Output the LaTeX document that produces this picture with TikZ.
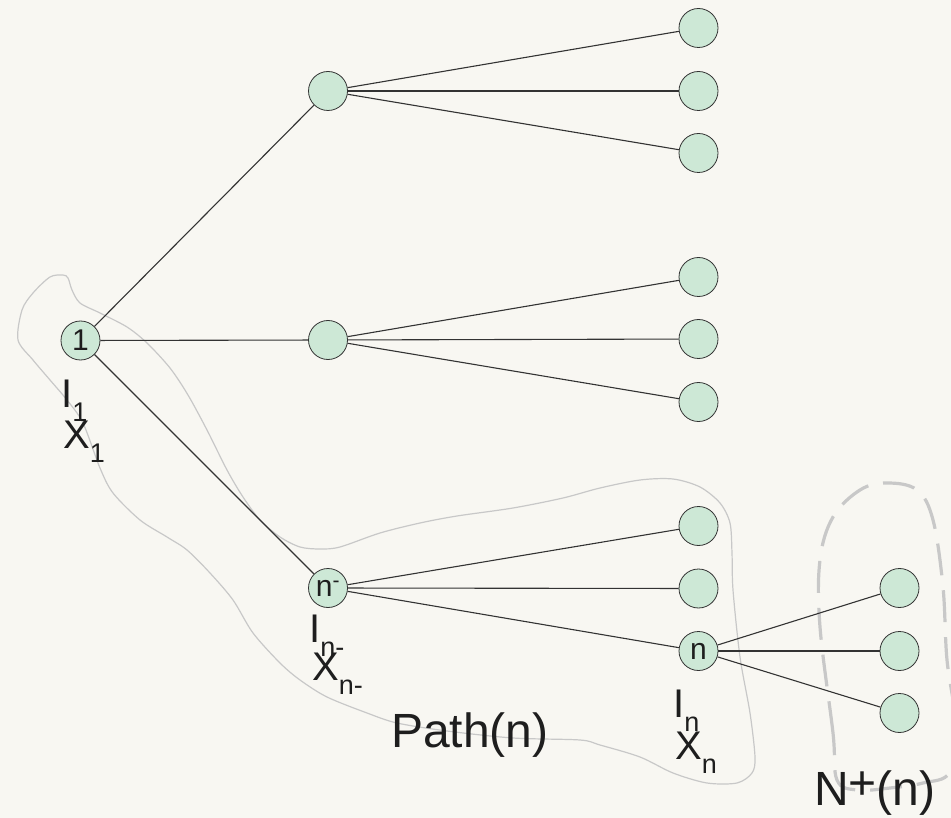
\documentclass[tikz,border=0pt]{standalone}
\usepackage{fontspec}
\setmainfont{Liberation Sans}
\definecolor{bgcol}{HTML}{F8F7F2}
\definecolor{nodefill}{HTML}{CDE8D6}
\definecolor{edgecol}{HTML}{333333}
\definecolor{txtcol}{HTML}{1E1E1E}
\definecolor{outlinecol}{HTML}{C8C8C8}
\newcommand{\lsub}[1]{\raisebox{-14pt}{\fontsize{27}{27}\selectfont #1}}
\begin{document}
\begin{tikzpicture}[x=1pt,y=-1pt,
  vert/.style={circle, draw=edgecol, fill=nodefill, line width=0.8pt, minimum size=39pt, inner sep=0pt, font=\fontsize{30}{30}\selectfont, text=txtcol},
  link/.style={draw=edgecol, line width=1.1pt},
  lbl/.style={anchor=base west, inner sep=0pt, font=\fontsize{40}{40}\selectfont, text=txtcol},
  biglbl/.style={anchor=base west, inner sep=0pt, font=\fontsize{48}{48}\selectfont, text=txtcol},
  pathline/.style={draw=outlinecol, line width=1.2pt},
  nbhline/.style={draw=outlinecol, line width=3.2pt, dash pattern=on 32pt off 15pt}]
\fill[bgcol] (0,0) rectangle (951,818);
\useasboundingbox (0,0) rectangle (951,818);
% Path(n) outline
\draw[pathline] plot[smooth cycle, tension=0.5] coordinates {
 (18,340) (22,310) (33,293) (50,277) (63,275) (68,278) (72,290) (80,303) (100,313) (127,327) (147,343) (170,368) (188,395) (207,430) (227,470) (243,497) (260,520) (280,537) (300,547) (320,549) (340,547) (380,533) (420,523) (457,516) (513,508) (563,498) (600,488) (640,480) (673,479) (700,487) (720,503) (730,523) (732,553) (733,590) (740,657) (750,713) (755,757) (752,773) (737,783) (707,783) (673,773) (640,757) (600,745) (580,740) (513,738) (447,731) (397,723) (367,713) (327,697) (300,680) (280,663) (253,633) (233,600) (210,573) (187,550) (167,537) (140,520) (113,493) (100,468) (83,423) (67,400) (50,380) (33,360)};
% N+(n) dashed outline
\begin{scope}
\clip (0,0) rectangle (951,818);
\draw[nbhline] plot[smooth cycle, tension=0.6] coordinates {
 (837,780) (833,733) (820,627) (820,560) (833,517) (860,490) (887,483) (917,490) (933,520) (943,587) (947,660) (956,725) (950,772) (923,783) (890,788) (857,790)};
\end{scope}
% nodes
\node[vert] (r) at (80.5,340.5) {1};
\node[vert] (a) at (328,91) {};
\node[vert] (b) at (328,340) {};
\node[vert] (c) at (328,588) {n\textsuperscript{-}};
\node[vert] (a1) at (698.5,28) {};
\node[vert] (a2) at (698.5,91) {};
\node[vert] (a3) at (698.5,153) {};
\node[vert] (b1) at (698.5,277) {};
\node[vert] (b2) at (698.5,339) {};
\node[vert] (b3) at (698.5,402) {};
\node[vert] (c1) at (698.5,526) {};
\node[vert] (c2) at (698.5,588.5) {};
\node[vert] (c3) at (698.5,651) {n};
\node[vert] (d1) at (899.5,588) {};
\node[vert] (d2) at (899.5,651) {};
\node[vert] (d3) at (899.5,713) {};
% edges
\foreach \s/\t in {r/a, r/b, r/c, a/a1, a/a2, a/a3, b/b1, b/b2, b/b3, c/c1, c/c2, c/c3, c3/d1, c3/d2, c3/d3}
  \draw[link] (\s) -- (\t);
% labels
\node[lbl] (i1) at (61,407) {I\lsub{1}};
\node[lbl] (x1) at (63,448) {X\lsub{1}};
\node[lbl] (in1) at (309,642) {I\lsub{n-}};
\node[lbl] (xn1) at (312,680) {X\lsub{n-}};
\node[lbl] (in) at (673,717) {I\lsub{n}};
\node[lbl] (xn) at (675,759) {X\lsub{n}};
\node[biglbl] (pathn) at (391,747) {Path(n)};
\node[biglbl] (nplus) at (814,805) {N\raisebox{6pt}{+}(n)};
\end{tikzpicture}
\end{document}
